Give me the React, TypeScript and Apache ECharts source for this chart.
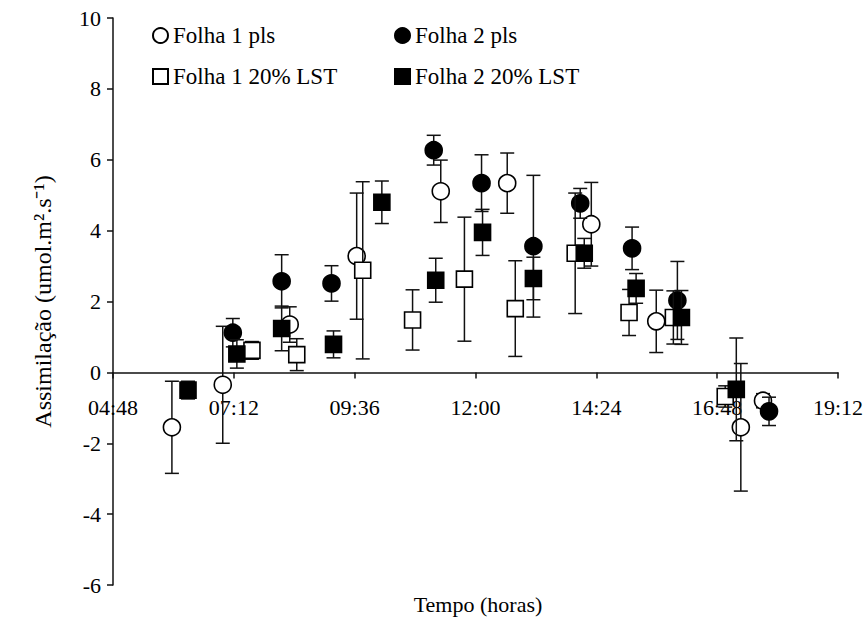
import React, { useEffect, useRef } from "react";
import * as echarts from "echarts";

// Time in decimal hours
const f1plsX = [5.97, 6.98, 8.31, 9.64, 11.31, 12.63, 14.3, 15.59, 17.27, 17.71];
const f1plsY = [-1.55, -0.35, 1.35, 3.28, 5.11, 5.34, 4.18, 1.44, -1.55, -0.8];
const f1plsErr = [1.3, 1.65, 0.5, 1.78, 0.88, 0.85, 1.18, 0.88, 1.8, 0.2];

const f2plsX = [7.18, 8.15, 9.14, 11.17, 12.12, 13.15, 14.08, 15.11, 16.01, 17.83];
const f2plsY = [1.12, 2.57, 2.51, 6.27, 5.34, 3.56, 4.77, 3.5, 2.03, -1.1];
const f2plsErr = [0.4, 0.75, 0.5, 0.42, 0.8, 2.0, 0.42, 0.6, 1.1, 0.4];

const f1lstX = [7.56, 8.45, 9.76, 10.75, 11.78, 12.79, 13.98, 15.05, 15.93, 16.96];
const f1lstY = [0.62, 0.5, 2.88, 1.48, 2.63, 1.8, 3.36, 1.69, 1.55, -0.68];
const f1lstErr = [0.25, 0.45, 2.5, 0.85, 1.75, 1.35, 1.7, 0.65, 0.75, 0.3];

const f2lstX = [6.29, 7.26, 8.15, 9.18, 10.14, 11.21, 12.14, 13.15, 14.16, 15.19, 16.09, 17.18];
const f2lstY = [-0.5, 0.52, 1.24, 0.79, 4.8, 2.6, 3.95, 2.65, 3.36, 2.37, 1.55, -0.48];
const f2lstErr = [0.25, 0.4, 0.63, 0.38, 0.6, 0.62, 0.65, 0.6, 0.42, 0.42, 0.76, 1.45];

const seriesNames = ["Folha 1 pls", "Folha 2 pls", "Folha 1 20% LST", "Folha 2 20% LST"];
const xTitle = "Tempo (horas)";
const yTitle = "Assimilação (umol.m².s⁻¹)";

const FONT = "'Liberation Serif', 'Times New Roman', serif";
const INK = "#111";

const Y_MIN = -6;
const Y_MAX = 10;
const GRID_TOP = 18;
const GRID_BOTTOM = 35;
const CHART_H = 620;

function fmtTime(v: number) {
  const total = Math.round(v * 60);
  const h = Math.floor(total / 60);
  const m = total % 60;
  return String(h).padStart(2, "0") + ":" + String(m).padStart(2, "0");
}

export default function App() {
  const ref = useRef<HTMLDivElement>(null);
  useEffect(() => {
    if (!ref.current) return;
    const chart = echarts.init(ref.current, null, { renderer: "svg" });

    const groups = [
      { name: seriesNames[0], xs: f1plsX, ys: f1plsY, es: f1plsErr, symbol: "circle", fill: "#fff" },
      { name: seriesNames[1], xs: f2plsX, ys: f2plsY, es: f2plsErr, symbol: "circle", fill: "#000" },
      { name: seriesNames[2], xs: f1lstX, ys: f1lstY, es: f1lstErr, symbol: "rect", fill: "#fff" },
      { name: seriesNames[3], xs: f2lstX, ys: f2lstY, es: f2lstErr, symbol: "rect", fill: "#000" },
    ];

    const series: any[] = [];
    groups.forEach((g, gi) => {
      series.push({
        type: "custom",
        name: g.name + " erro",
        z: 2 + gi * 2,
        encode: { x: 0, y: [1, 2] },
        data: g.xs.map((x, i) => [x, g.ys[i] - g.es[i], g.ys[i] + g.es[i]]),
        renderItem: (params: any, api: any) => {
          const x = api.value(0);
          const lo = api.value(1);
          const hi = api.value(2);
          const p1 = api.coord([x, hi]);
          const p2 = api.coord([x, lo]);
          const hw = 7;
          const st = { stroke: INK, lineWidth: 1.5 };
          return {
            type: "group",
            children: [
              { type: "line", shape: { x1: p1[0], y1: p1[1], x2: p2[0], y2: p2[1] }, style: st },
              { type: "line", shape: { x1: p1[0] - hw, y1: p1[1], x2: p1[0] + hw, y2: p1[1] }, style: st },
              { type: "line", shape: { x1: p2[0] - hw, y1: p2[1], x2: p2[0] + hw, y2: p2[1] }, style: st },
            ],
          };
        },
      });
      series.push({
        type: "scatter",
        name: g.name,
        z: 3 + gi * 2,
        symbol: g.symbol,
        symbolSize: g.symbol === "circle" ? 17 : 16,
        itemStyle: { color: g.fill, borderColor: "#000", borderWidth: 1.6, opacity: 1 },
        data: g.xs.map((x, i) => [x, g.ys[i]]),
      });
    });

    const legendPos = [
      { left: 152, top: 24 },
      { left: 394, top: 24 },
      { left: 152, top: 65 },
      { left: 394, top: 65 },
    ];

    // move the x axis from the grid bottom up to y = 0
    const plotH = CHART_H - GRID_TOP - GRID_BOTTOM;
    const zeroFromBottom = (0 - Y_MIN) / (Y_MAX - Y_MIN) * plotH;

    chart.setOption({
      animation: false,
      grid: { left: 113, right: 29, top: GRID_TOP, bottom: GRID_BOTTOM },
      legend: seriesNames.map((n, i) => ({
        data: [n],
        left: legendPos[i].left,
        top: legendPos[i].top,
        itemWidth: 15,
        itemHeight: 15,
        itemGap: 5,
        padding: 0,
        selectedMode: false,
        textStyle: { fontFamily: FONT, fontSize: 23, color: "#000" },
      })),
      xAxis: {
        type: "value",
        min: 4.8,
        max: 19.2,
        interval: 2.4,
        offset: -zeroFromBottom,
        splitLine: { show: false },
        axisLine: { onZero: false, lineStyle: { color: INK, width: 1.5 } },
        axisTick: { show: true, length: 6, lineStyle: { color: INK, width: 1.5 } },
        axisLabel: {
          formatter: (v: number) => fmtTime(v),
          fontFamily: FONT,
          fontSize: 22,
          color: "#000",
          margin: 24,
          showMinLabel: true,
          showMaxLabel: true,
          hideOverlap: false,
        },
      },
      yAxis: {
        type: "value",
        min: Y_MIN,
        max: Y_MAX,
        interval: 2,
        splitLine: { show: false },
        axisLine: { show: true, onZero: false, lineStyle: { color: INK, width: 1.5 } },
        axisTick: { show: true, length: 6, lineStyle: { color: INK, width: 1.5 } },
        axisLabel: { fontFamily: FONT, fontSize: 22, color: "#000", margin: 12 },
        name: yTitle,
        nameLocation: "middle",
        nameGap: 58,
        nameTextStyle: { fontFamily: FONT, fontSize: 24, color: "#000" },
      },
      graphic: [
        {
          type: "text",
          x: 478,
          y: 604,
          style: {
            text: xTitle,
            font: "22px " + FONT,
            fill: "#000",
            textAlign: "center",
            textVerticalAlign: "middle",
          },
        },
      ],
      series,
    });
    return () => chart.dispose();
  }, []);
  return (
    <div
      ref={ref}
      style={{ position: "fixed", left: 0, top: 0, width: 867, height: 620, background: "#fff" }}
    />
  );
}
